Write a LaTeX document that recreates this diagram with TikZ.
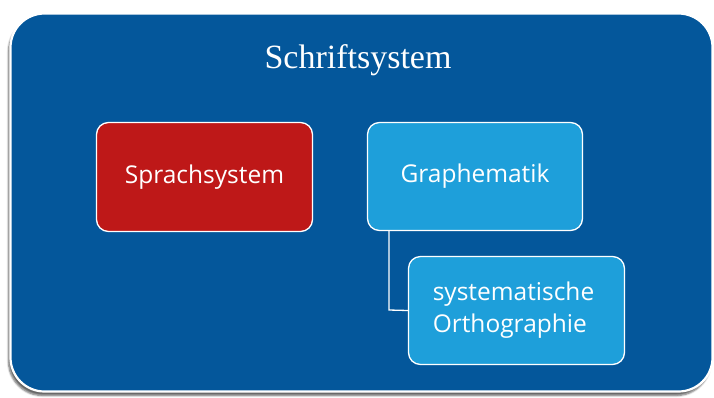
\documentclass[tikz,border=0pt]{standalone}
\usepackage{fontspec}
\setmainfont{Liberation Serif}
\newfontfamily\boxfont{Open Sans}
\usetikzlibrary{shadows.blur}
\definecolor{bgblue}{RGB}{4,87,155}
\definecolor{boxred}{RGB}{190,24,24}
\definecolor{boxblue}{RGB}{30,159,218}
\tikzset{
  outerbox/.style={draw=white, line width=2.2pt, fill=bgblue, rounded corners=34pt,
    blur shadow={shadow xshift=-2pt, shadow yshift=-4pt, shadow blur steps=6, shadow opacity=60}},
  itembox/.style={draw=white, line width=1.3pt, rounded corners=12pt, text=white,
    font=\boxfont\fontsize{24.5}{32}\selectfont},
  link/.style={draw=white, line width=1.3pt}
}
\begin{document}
\begin{tikzpicture}[x=1pt,y=-1pt]
\useasboundingbox (0,0) rectangle (714,397);
\node[outerbox, minimum width=702pt, minimum height=378pt, inner sep=0pt] (outer) at (361.5,202.5) {};
\node[text=white, font=\fontsize{34}{40}\selectfont] (title) at (358,60) {Schriftsystem};
\node[itembox, fill=boxred, minimum width=216pt, minimum height=109pt] (spr) at (204.5,177) {Sprachsystem};
\node[itembox, fill=boxblue, minimum width=215pt, minimum height=108pt] (gra) at (475,176.5) {Graphematik};
\node[itembox, fill=boxblue, minimum width=216pt, minimum height=108pt, align=left] (sys) at (516.5,310.5) {systematische\hspace*{6pt}\\Orthographie};
\coordinate (corner) at (389,310);
\draw[link] (gra.south -| corner) -- (corner) -- (sys.west);
\end{tikzpicture}
\end{document}
